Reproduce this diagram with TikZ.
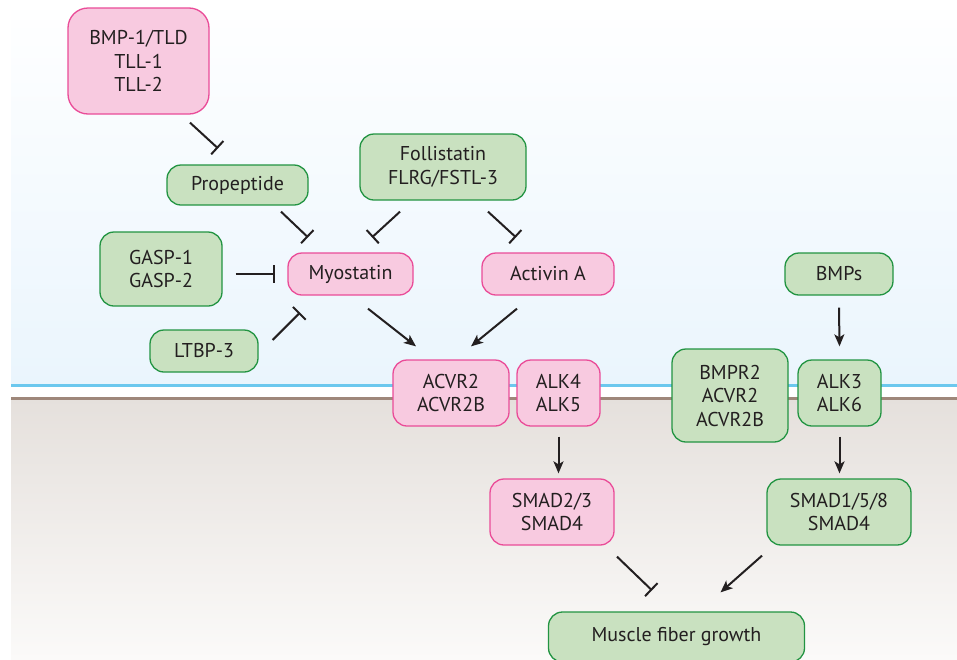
\documentclass[tikz,border=0pt]{standalone}
\usepackage{fontspec}
\setmainfont{PT Sans}
\usetikzlibrary{arrows.meta,calc}

\definecolor{pinkfill}{RGB}{248,202,224}
\definecolor{pinkline}{RGB}{234,76,152}
\definecolor{greenfill}{RGB}{201,225,192}
\definecolor{greenline}{RGB}{34,148,66}
\definecolor{txt}{RGB}{35,31,32}
\definecolor{skyblue}{RGB}{234,245,253}
\definecolor{membrane}{RGB}{108,200,238}
\definecolor{cellbrown}{RGB}{158,135,122}
\definecolor{cytotop}{RGB}{229,224,220}
\definecolor{cytobot}{RGB}{251,250,249}

\tikzset{
    prot/.style={
        draw,
        rounded corners=14pt,
        line width=1.3pt,
        align=center,
        text=txt,
        inner sep=2pt,
        font=\fontsize{20}{23.5}\selectfont
    },
    pinkprot/.style={prot, fill=pinkfill, draw=pinkline},
    greenprot/.style={prot, fill=greenfill, draw=greenline},
    inh/.style={line width=2pt, color=txt, -{Bar[width=18pt,line width=2pt]}},
    stim/.style={line width=2pt, color=txt, -{Stealth[length=12pt,width=10pt,inset=3pt]}}
}

\begin{document}
\begin{tikzpicture}[x=1pt,y=-1pt]
\useasboundingbox (0,0) rectangle (957,659);
% outside / membrane / cytoplasm
\shade[top color=white, bottom color=skyblue] (11,0) rectangle (957,385);
\fill[white] (11,385) rectangle (957,398);
\shade[top color=cytotop, bottom color=cytobot] (11,398) rectangle (957,659);
\draw[membrane, line width=2.8pt] (11,385.5) -- (957,385.5);
\draw[cellbrown, line width=2.8pt] (11,398.5) -- (957,398.5);

		\path
			node[pinkprot, rounded corners=20pt, minimum width=141pt, minimum height=106pt]
				at (138.5,61) (bmp) {BMP-1/TLD\\TLL-1\\TLL-2}
			node[greenprot, minimum width=141pt, minimum height=40pt]
				at (237.5,185) (prop) {Propeptide}
			node[greenprot, minimum width=166pt, minimum height=66pt]
				at (443,167) (fol) {Follistatin\\FLRG/FSTL-3}
			;
		\path 	(161,269)
					node[greenprot, minimum width=122pt, minimum height=74pt] (gasp) {GASP-1\\GASP-2}
			++(189.5,5) node[pinkprot, minimum width=125pt, minimum height=42pt] (myo) {Myostatin}
			++(197.5,0) node[pinkprot, minimum width=132pt, minimum height=42pt] (actA) {Activin A}
			++(291,0) node[greenprot, minimum width=108pt, minimum height=42pt] (bmps) {BMPs}
			;
		\path
			node[greenprot, minimum width=108pt, minimum height=42pt]
				at (204,351) (ltbp) {LTBP-3}
			;
		\path 	(451,393)
					node[pinkprot, minimum width=116pt, minimum height=66pt] (acvr) {ACVR2\\ACVR2B}
			++(107.5,0) node[pinkprot, minimum width=83pt, minimum height=66pt] (alkA) {ALK4\\ALK5}
			++(171.5,2.5) node[greenprot, minimum width=116pt, minimum height=93pt] (bmpr) {BMPR2\\ACVR2\\ACVR2B}
			++(109.5,-2.5) node[greenprot, minimum width=83pt, minimum height=66pt] (alkB) {ALK3\\ALK6}
			;
		\path
			node[pinkprot, minimum width=124pt, minimum height=66pt]
				at (552,512) (smadA) {SMAD2/3\\SMAD4}
			node[greenprot, minimum width=144pt, minimum height=66pt]
				at (839,512) (smadB) {SMAD1/5/8\\SMAD4}
			node[greenprot, minimum width=256pt, minimum height=50pt]
				at (676.5,637) (fiber) {Muscle fiber growth}
			;

		% inhibitions
		\path [inh]
			($(bmp.south)+(51.5,8)$) edge ($(prop.north)+(-19.5,-16)$)
			($(prop.south)+(43.5,6)$) edge ($(myo.north)+(-42.5,-15)$)
			($(fol.south)+(-43,11)$) edge ($(myo.north)+(21.5,-15)$)
			($(fol.south)+(45,11)$) edge ($(actA.north)+(-32,-15)$)
			($(gasp.east |- myo.west)+(13,0)$) edge ($(myo.west)+(-12,0)$)
			($(ltbp.east)+(14,-11)$) edge ($(myo.south)+(-50.5,17)$)
			($(smadA.south)+(65,11)$) edge ($(fiber.north)+(-24.5,-21)$)
			;
		% activations
		\path [stim]
			($(myo.south)+(17.5,13)$) edge ($(acvr.north)+(-35,-13)$)
			($(actA.south)+(-31,13)$) edge ($(acvr.north)+(20,-13)$)
			($(bmps.south)+(0,12)$) edge ($(alkB.north)+(0,-13)$)
			($(alkA.south)+(0,10)$) edge ($(alkA.south |- smadA.north)+(0,-5)$)
			($(alkB.south)+(0,10)$) edge ($(alkB.south |- smadB.north)+(0,-5)$)
			($(smadB.south)+(-77,10)$) edge ($(fiber.north)+(44,-19)$)
			;
\end{tikzpicture}
\end{document}
